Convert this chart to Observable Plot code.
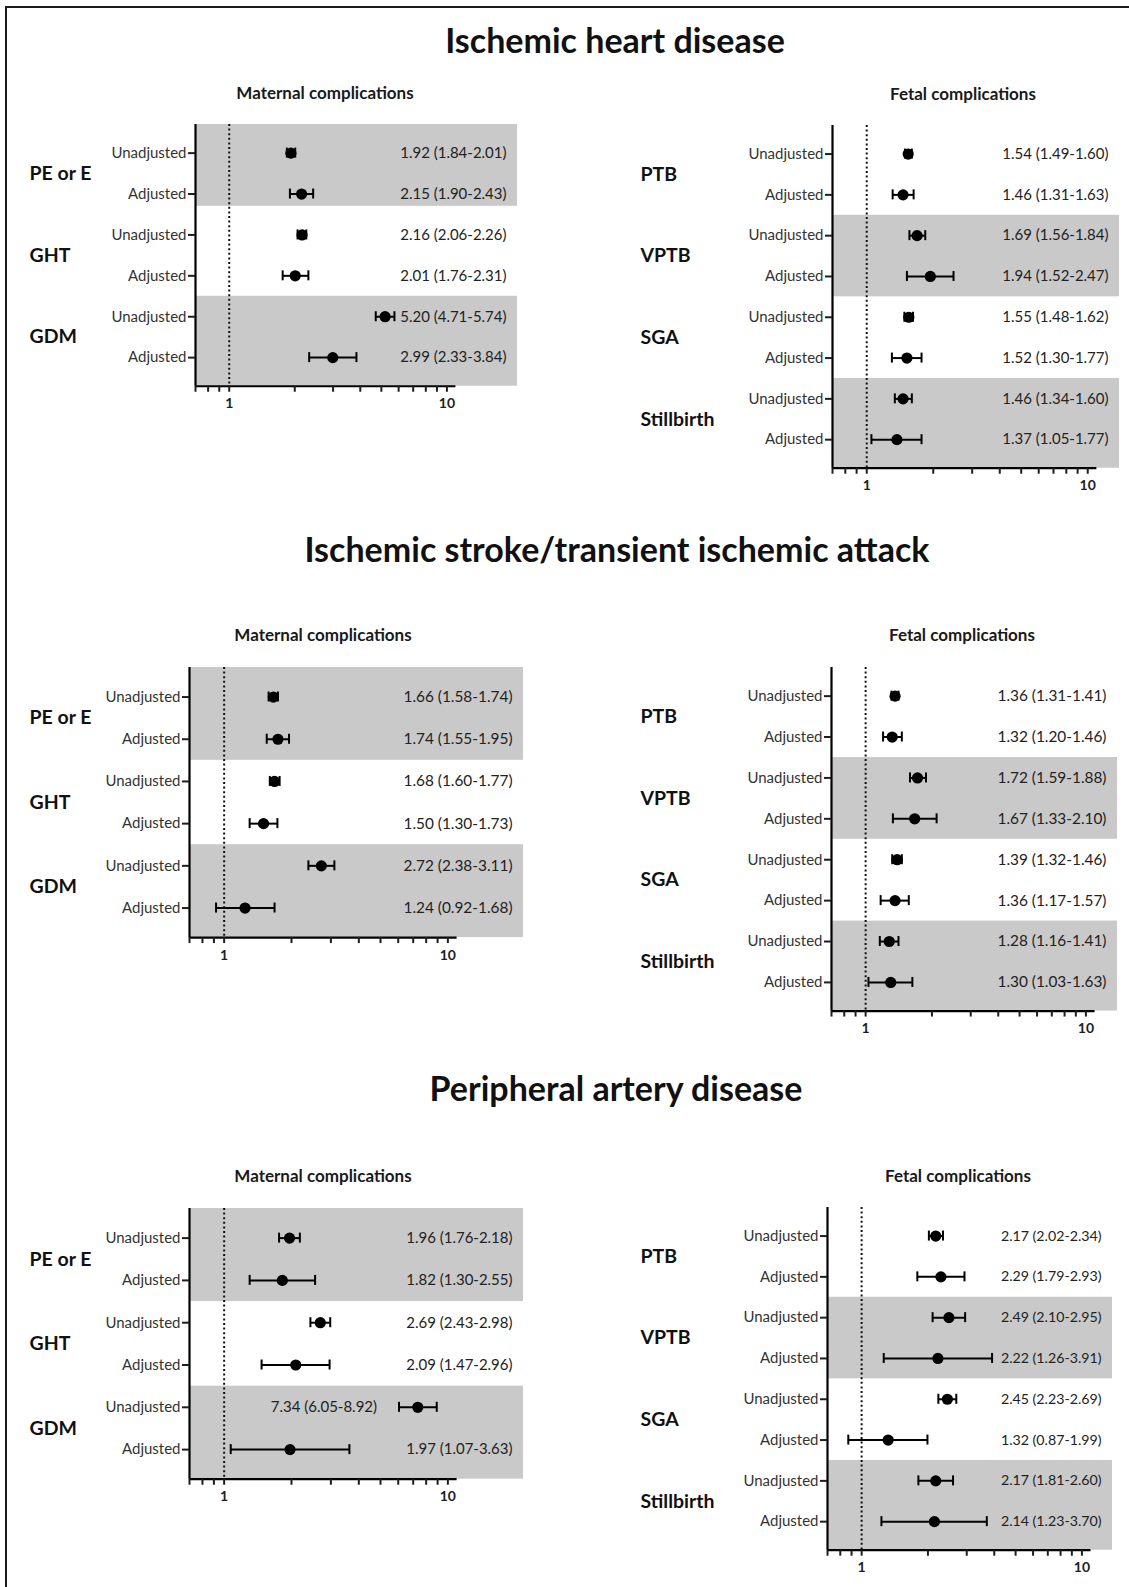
<!DOCTYPE html>
<html>
<head>
<meta charset="utf-8">
<script src="https://cdn.jsdelivr.net/npm/d3@7"></script>
<script src="https://cdn.jsdelivr.net/npm/@observablehq/plot@0.6"></script>
<style>
  html, body { margin: 0; padding: 0; background: #fff; }
  #page { position: relative; width: 1129px; height: 1587px; overflow: hidden; font-family: Lato, sans-serif; color: #111; }
  .border { position: absolute; left: 5px; top: 6px; width: 1300px; height: 1700px; border: 2px solid #1a1a1a; }
  .title { position: absolute; transform: translate(-50%, -50%); white-space: nowrap; line-height: 1; font-weight: 700; font-size: 34px; }
  .subtitle { position: absolute; transform: translate(-50%, -50%); white-space: nowrap; line-height: 1; font-weight: 700; font-size: 17px; color: #1a1a1a; }
  .panel { position: absolute; }
  .panel svg { overflow: visible; }
</style>
</head>
<body>
<div id="page"><div class="border"></div></div>
<script>
// ---- categories -------------------------------------------------------
const outcomes = [
  "Ischemic heart disease",
  "Ischemic stroke/transient ischemic attack",
  "Peripheral artery disease"
];
const sides = ["Maternal complications", "Fetal complications"];
const maternalGroups = ["PE or E", "GHT", "GDM"];
const fetalGroups = ["PTB", "VPTB", "SGA", "Stillbirth"];
const models = ["Unadjusted", "Adjusted"];
const xTicks = [0.7, 0.8, 0.9, 1, 2, 3, 4, 5, 6, 7, 8, 9, 10];
const xTickLabels = [1, 10];

// ---- hazard ratios (point estimate, lower and upper 95% CI) -----------
// rows run group by group: Unadjusted, Adjusted
const ihdMaternalHR = [1.92, 2.15, 2.16, 2.01, 5.20, 2.99];
const ihdMaternalLo = [1.84, 1.90, 2.06, 1.76, 4.71, 2.33];
const ihdMaternalHi = [2.01, 2.43, 2.26, 2.31, 5.74, 3.84];

const ihdFetalHR = [1.54, 1.46, 1.69, 1.94, 1.55, 1.52, 1.46, 1.37];
const ihdFetalLo = [1.49, 1.31, 1.56, 1.52, 1.48, 1.30, 1.34, 1.05];
const ihdFetalHi = [1.60, 1.63, 1.84, 2.47, 1.62, 1.77, 1.60, 1.77];

const strokeMaternalHR = [1.66, 1.74, 1.68, 1.50, 2.72, 1.24];
const strokeMaternalLo = [1.58, 1.55, 1.60, 1.30, 2.38, 0.92];
const strokeMaternalHi = [1.74, 1.95, 1.77, 1.73, 3.11, 1.68];

const strokeFetalHR = [1.36, 1.32, 1.72, 1.67, 1.39, 1.36, 1.28, 1.30];
const strokeFetalLo = [1.31, 1.20, 1.59, 1.33, 1.32, 1.17, 1.16, 1.03];
const strokeFetalHi = [1.41, 1.46, 1.88, 2.10, 1.46, 1.57, 1.41, 1.63];

const padMaternalHR = [1.96, 1.82, 2.69, 2.09, 7.34, 1.97];
const padMaternalLo = [1.76, 1.30, 2.43, 1.47, 6.05, 1.07];
const padMaternalHi = [2.18, 2.55, 2.98, 2.96, 8.92, 3.63];

const padFetalHR = [2.17, 2.29, 2.49, 2.22, 2.45, 1.32, 2.17, 2.14];
const padFetalLo = [2.02, 1.79, 2.10, 1.26, 2.23, 0.87, 1.81, 1.23];
const padFetalHi = [2.34, 2.93, 2.95, 3.91, 2.69, 1.99, 2.60, 3.70];

// ---- page layout (pixels) ----------------------------------------------
const titleCenters = [[615, 40], [617, 549], [616, 1088]];
const subtitleCenters = [
  [[325, 92], [963, 93]],
  [[323, 634], [962, 634]],
  [[323, 1175], [958, 1175]]
];
// axisX: left edge of the plotting frame, top: top of the frame,
// step: row spacing, decade: width of one log decade, right: end of shading,
// firstBandEnd: lower edge of the first shaded band (row units)
const panels = [
  {outcome: 0, side: 0, groups: maternalGroups, hr: ihdMaternalHR, lo: ihdMaternalLo, hi: ihdMaternalHi,
   svgLeft: 20, groupX: 29, axisX: 195, top: 124, step: 40.9, decade: 217.7, right: 517, firstBandEnd: 1.3, valueSize: 15},
  {outcome: 0, side: 1, groups: fetalGroups, hr: ihdFetalHR, lo: ihdFetalLo, hi: ihdFetalHi,
   svgLeft: 630, groupX: 640, axisX: 832, top: 125, step: 40.8, decade: 221, right: 1119, valueSize: 15},
  {outcome: 1, side: 0, groups: maternalGroups, hr: strokeMaternalHR, lo: strokeMaternalLo, hi: strokeMaternalHi,
   svgLeft: 20, groupX: 29, axisX: 189, top: 667, step: 42.2, decade: 223.7, right: 523, valueSize: 15.4},
  {outcome: 1, side: 1, groups: fetalGroups, hr: strokeFetalHR, lo: strokeFetalLo, hi: strokeFetalHi,
   svgLeft: 630, groupX: 640, axisX: 831, top: 667, step: 40.9, decade: 220.3, right: 1117, valueSize: 15.4},
  {outcome: 2, side: 0, groups: maternalGroups, hr: padMaternalHR, lo: padMaternalLo, hi: padMaternalHi,
   svgLeft: 20, groupX: 29, axisX: 189, top: 1208, step: 42.3, decade: 223.7, right: 523, valueSize: 15},
  {outcome: 2, side: 1, groups: fetalGroups, hr: padFetalHR, lo: padFetalLo, hi: padFetalHi,
   svgLeft: 630, groupX: 640, axisX: 827, top: 1207, step: 40.8, decade: 220.3, right: 1112, valueSize: 14.2}
];

const page = document.getElementById("page");
const fmt = d3.format(".2f");
const xMin = 0.7, xMax = 11;
const marginTop = 10, marginBottom = 34;

function addText(cls, text, [cx, cy]) {
  const el = document.createElement("div");
  el.className = cls;
  el.textContent = text;
  el.style.left = cx + "px";
  el.style.top = cy + "px";
  page.appendChild(el);
}

outcomes.forEach((t, i) => {
  addText("title", t, titleCenters[i]);
  sides.forEach((s, j) => addText("subtitle", s, subtitleCenters[i][j]));
});

function forestPanel(p) {
  const n = p.hr.length;
  const rows = p.hr.map((v, i) => ({
    row: i,
    group: p.groups[Math.floor(i / 2)],
    model: models[i % 2],
    est: v, lo: p.lo[i], hi: p.hi[i],
    label: `${fmt(v)} (${fmt(p.lo[i])}-${fmt(p.hi[i])})`
  }));
  const yMin = -0.7, yMax = n - 0.3;
  const last = p.groups.length - 1;
  // alternate groups are shaded, ending with a shaded last group
  const bands = p.groups
    .map((g, k) => ({
      k,
      y1: k === 0 ? yMin : 2 * k - 0.5,
      y2: k === last ? yMax : (k === 0 && p.firstBandEnd ? p.firstBandEnd : 2 * k + 1.5)
    }))
    .filter(b => (last - b.k) % 2 === 0);
  const groupRows = p.groups.map((g, k) => ({name: g, y: 2 * k + 0.5}));
  // an interval that runs into the label column gets its label on the left
  const labelLeft = d => d.hi > 6.5;
  const cap = 5 / p.step;

  const marginLeft = p.axisX - p.svgLeft;
  const width = p.right - p.svgLeft;
  const height = marginTop + marginBottom + p.step * (yMax - yMin);

  const chart = Plot.plot({
    width, height, marginLeft, marginRight: 0, marginTop, marginBottom,
    x: {type: "log", domain: [xMin, xMax], range: [marginLeft, marginLeft + p.decade * Math.log10(xMax / xMin)], label: null},
    y: {domain: [yMin, yMax], reverse: true, label: null},
    style: {fontFamily: "Lato, sans-serif", fontSize: "15px", color: "#1e1e1e", background: "transparent", overflow: "visible"},
    marks: [
      Plot.rect(bands, {y1: "y1", y2: "y2", fill: "#c9c9c9"}),
      Plot.ruleX([1], {stroke: "#111", strokeWidth: 2, strokeDasharray: "2,2.6"}),
      Plot.ruleX([xMin], {stroke: "#000", strokeWidth: 2.2}),
      Plot.ruleY([yMax], {x1: xMin, x2: xMax, stroke: "#000", strokeWidth: 2.2}),
      Plot.axisY(d3.range(n), {tickFormat: i => models[i % 2], tickSize: 7, tickPadding: 2, strokeWidth: 2, fontSize: 15, fill: "#333", label: null}),
      Plot.axisX(xTicks, {tickFormat: d => xTickLabels.includes(d) ? String(d) : "", tickSize: 6, tickPadding: 6, strokeWidth: 2, fontSize: 14, fontWeight: "bold", label: null}),
      Plot.ruleY(rows, {y: "row", x1: "lo", x2: "hi", stroke: "#000", strokeWidth: 2}),
      Plot.ruleX(rows, {x: "lo", y1: d => d.row - cap, y2: d => d.row + cap, stroke: "#000", strokeWidth: 2}),
      Plot.ruleX(rows, {x: "hi", y1: d => d.row - cap, y2: d => d.row + cap, stroke: "#000", strokeWidth: 2}),
      Plot.dot(rows, {x: "est", y: "row", r: 5.6, fill: "#000"}),
      Plot.text(rows.filter(d => !labelLeft(d)), {y: "row", text: "label", frameAnchor: "right", textAnchor: "end", dx: -11, fontSize: p.valueSize, fill: "#222"}),
      Plot.text(rows.filter(labelLeft), {x: "lo", y: "row", text: "label", textAnchor: "end", dx: -22, fontSize: p.valueSize, fill: "#222"}),
      Plot.text(groupRows, {y: "y", text: "name", frameAnchor: "left", textAnchor: "start", dx: p.groupX - p.axisX, fontSize: 19.5, fontWeight: "bold", fill: "#111"})
    ]
  });
  const holder = document.createElement("div");
  holder.className = "panel";
  holder.style.left = p.svgLeft + "px";
  holder.style.top = (p.top - marginTop) + "px";
  holder.appendChild(chart);
  page.appendChild(holder);
}

panels.forEach(forestPanel);
</script>
</body>
</html>
